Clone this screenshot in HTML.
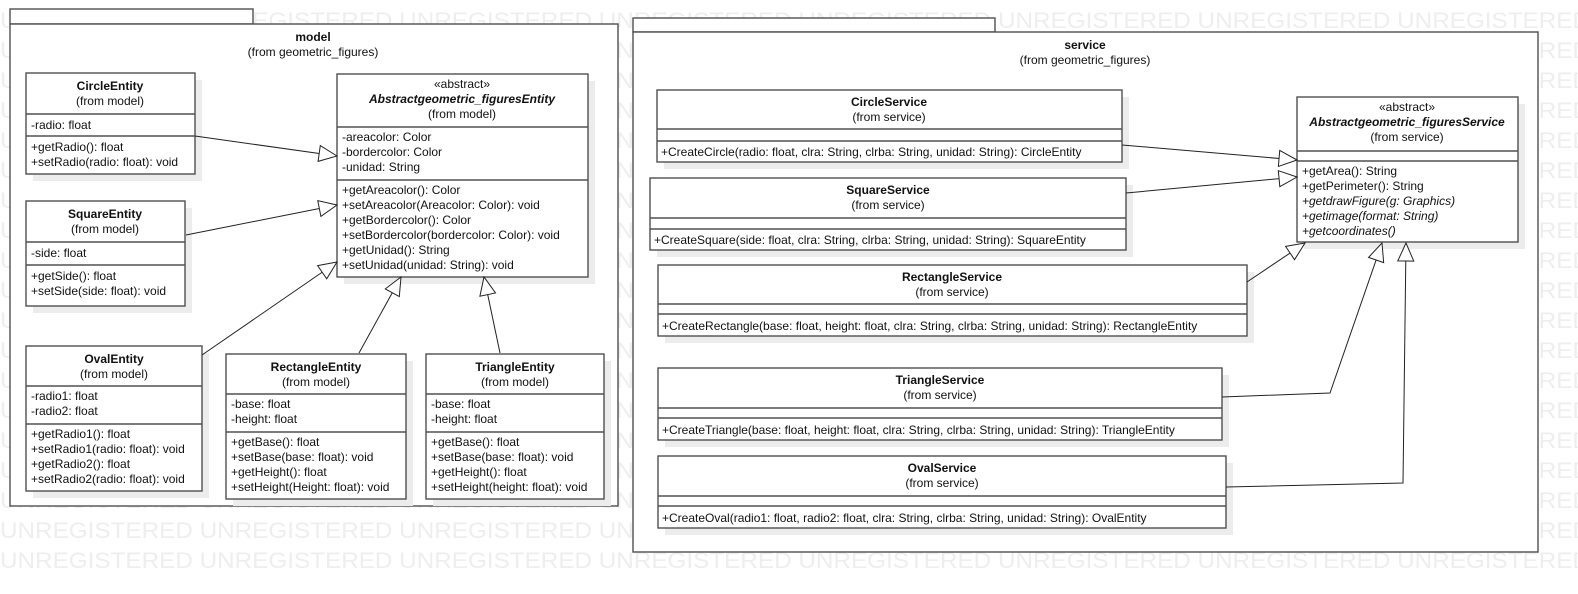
<!DOCTYPE html>
<html><head><meta charset="utf-8"><style>
html,body{margin:0;padding:0;background:#fff;}
svg{display:block;font-family:"Liberation Sans",Arial,sans-serif;font-size:12px;}
.b{fill:#fff;stroke:#505050;stroke-width:1.4;}
.s{fill:#ececec;stroke:none;}
.l{stroke:#505050;stroke-width:1.4;}
.c{stroke:#222;stroke-width:1;fill:none;}
.t{fill:#111;}
.bd{font-weight:bold;}
.it{font-style:italic;}
.wm{fill:#eeeeee;font-size:22px;}
</style></head><body>
<svg width="1578" height="594" viewBox="0 0 1578 594" xmlns="http://www.w3.org/2000/svg">
<defs>
<marker id="a" markerUnits="userSpaceOnUse" markerWidth="22" markerHeight="20" refX="19" refY="9" orient="auto">
<path d="M19,9 L1,1 L1,17 Z" fill="#fff" stroke="#222" stroke-width="1"/>
</marker>
</defs>
<!-- watermark -->
<g class="wm">
<text x="0" y="28" textLength="1590" lengthAdjust="spacingAndGlyphs">UNREGISTERED UNREGISTERED UNREGISTERED UNREGISTERED UNREGISTERED UNREGISTERED UNREGISTERED UNREGISTERED</text>
<text x="0" y="58" textLength="1590" lengthAdjust="spacingAndGlyphs">UNREGISTERED UNREGISTERED UNREGISTERED UNREGISTERED UNREGISTERED UNREGISTERED UNREGISTERED UNREGISTERED</text>
<text x="0" y="88" textLength="1590" lengthAdjust="spacingAndGlyphs">UNREGISTERED UNREGISTERED UNREGISTERED UNREGISTERED UNREGISTERED UNREGISTERED UNREGISTERED UNREGISTERED</text>
<text x="0" y="118" textLength="1590" lengthAdjust="spacingAndGlyphs">UNREGISTERED UNREGISTERED UNREGISTERED UNREGISTERED UNREGISTERED UNREGISTERED UNREGISTERED UNREGISTERED</text>
<text x="0" y="148" textLength="1590" lengthAdjust="spacingAndGlyphs">UNREGISTERED UNREGISTERED UNREGISTERED UNREGISTERED UNREGISTERED UNREGISTERED UNREGISTERED UNREGISTERED</text>
<text x="0" y="178" textLength="1590" lengthAdjust="spacingAndGlyphs">UNREGISTERED UNREGISTERED UNREGISTERED UNREGISTERED UNREGISTERED UNREGISTERED UNREGISTERED UNREGISTERED</text>
<text x="0" y="208" textLength="1590" lengthAdjust="spacingAndGlyphs">UNREGISTERED UNREGISTERED UNREGISTERED UNREGISTERED UNREGISTERED UNREGISTERED UNREGISTERED UNREGISTERED</text>
<text x="0" y="238" textLength="1590" lengthAdjust="spacingAndGlyphs">UNREGISTERED UNREGISTERED UNREGISTERED UNREGISTERED UNREGISTERED UNREGISTERED UNREGISTERED UNREGISTERED</text>
<text x="0" y="268" textLength="1590" lengthAdjust="spacingAndGlyphs">UNREGISTERED UNREGISTERED UNREGISTERED UNREGISTERED UNREGISTERED UNREGISTERED UNREGISTERED UNREGISTERED</text>
<text x="0" y="298" textLength="1590" lengthAdjust="spacingAndGlyphs">UNREGISTERED UNREGISTERED UNREGISTERED UNREGISTERED UNREGISTERED UNREGISTERED UNREGISTERED UNREGISTERED</text>
<text x="0" y="328" textLength="1590" lengthAdjust="spacingAndGlyphs">UNREGISTERED UNREGISTERED UNREGISTERED UNREGISTERED UNREGISTERED UNREGISTERED UNREGISTERED UNREGISTERED</text>
<text x="0" y="358" textLength="1590" lengthAdjust="spacingAndGlyphs">UNREGISTERED UNREGISTERED UNREGISTERED UNREGISTERED UNREGISTERED UNREGISTERED UNREGISTERED UNREGISTERED</text>
<text x="0" y="388" textLength="1590" lengthAdjust="spacingAndGlyphs">UNREGISTERED UNREGISTERED UNREGISTERED UNREGISTERED UNREGISTERED UNREGISTERED UNREGISTERED UNREGISTERED</text>
<text x="0" y="418" textLength="1590" lengthAdjust="spacingAndGlyphs">UNREGISTERED UNREGISTERED UNREGISTERED UNREGISTERED UNREGISTERED UNREGISTERED UNREGISTERED UNREGISTERED</text>
<text x="0" y="448" textLength="1590" lengthAdjust="spacingAndGlyphs">UNREGISTERED UNREGISTERED UNREGISTERED UNREGISTERED UNREGISTERED UNREGISTERED UNREGISTERED UNREGISTERED</text>
<text x="0" y="478" textLength="1590" lengthAdjust="spacingAndGlyphs">UNREGISTERED UNREGISTERED UNREGISTERED UNREGISTERED UNREGISTERED UNREGISTERED UNREGISTERED UNREGISTERED</text>
<text x="0" y="508" textLength="1590" lengthAdjust="spacingAndGlyphs">UNREGISTERED UNREGISTERED UNREGISTERED UNREGISTERED UNREGISTERED UNREGISTERED UNREGISTERED UNREGISTERED</text>
<text x="0" y="538" textLength="1590" lengthAdjust="spacingAndGlyphs">UNREGISTERED UNREGISTERED UNREGISTERED UNREGISTERED UNREGISTERED UNREGISTERED UNREGISTERED UNREGISTERED</text>
<text x="0" y="568" textLength="1590" lengthAdjust="spacingAndGlyphs">UNREGISTERED UNREGISTERED UNREGISTERED UNREGISTERED UNREGISTERED UNREGISTERED UNREGISTERED UNREGISTERED</text>
</g>

<!-- MODEL PACKAGE -->
<rect class="b" x="10" y="9" width="243" height="15"/>
<rect class="b" x="10" y="24" width="608" height="482"/>
<text class="t bd" x="313" y="41" text-anchor="middle">model</text>
<text class="t" x="313" y="56" text-anchor="middle">(from geometric_figures)</text>

<!-- CircleEntity -->
<rect class="s" x="33" y="80" width="169" height="101"/>
<rect class="b" x="26" y="73" width="169" height="101"/>
<line class="l" x1="26" y1="114" x2="195" y2="114"/><line class="l" x1="26" y1="136" x2="195" y2="136"/>
<text class="t bd" x="110" y="90" text-anchor="middle">CircleEntity</text>
<text class="t" x="110" y="105" text-anchor="middle">(from model)</text>
<text class="t" x="31" y="129">-radio: float</text>
<text class="t" x="31" y="151">+getRadio(): float</text>
<text class="t" x="31" y="166">+setRadio(radio: float): void</text>

<!-- SquareEntity -->
<rect class="s" x="33" y="208" width="159" height="105"/>
<rect class="b" x="26" y="201" width="159" height="105"/>
<line class="l" x1="26" y1="242" x2="185" y2="242"/><line class="l" x1="26" y1="265" x2="185" y2="265"/>
<text class="t bd" x="105" y="218" text-anchor="middle">SquareEntity</text>
<text class="t" x="105" y="233" text-anchor="middle">(from model)</text>
<text class="t" x="31" y="257">-side: float</text>
<text class="t" x="31" y="280">+getSide(): float</text>
<text class="t" x="31" y="295">+setSide(side: float): void</text>

<!-- Abstract Entity -->
<rect class="s" x="344" y="81" width="251" height="203"/>
<rect class="b" x="337" y="74" width="251" height="203"/>
<line class="l" x1="337" y1="127" x2="588" y2="127"/><line class="l" x1="337" y1="180" x2="588" y2="180"/>
<text class="t" x="462" y="88" text-anchor="middle">«abstract»</text>
<text class="t bd it" x="462" y="103" text-anchor="middle">Abstractgeometric_figuresEntity</text>
<text class="t" x="462" y="118" text-anchor="middle">(from model)</text>
<text class="t" x="342" y="141">-areacolor: Color</text>
<text class="t" x="342" y="156">-bordercolor: Color</text>
<text class="t" x="342" y="171">-unidad: String</text>
<text class="t" x="342" y="194">+getAreacolor(): Color</text>
<text class="t" x="342" y="209">+setAreacolor(Areacolor: Color): void</text>
<text class="t" x="342" y="224">+getBordercolor(): Color</text>
<text class="t" x="342" y="239">+setBordercolor(bordercolor: Color): void</text>
<text class="t" x="342" y="254">+getUnidad(): String</text>
<text class="t" x="342" y="269">+setUnidad(unidad: String): void</text>

<!-- OvalEntity -->
<rect class="s" x="33" y="353" width="176" height="145"/>
<rect class="b" x="26" y="346" width="176" height="145"/>
<line class="l" x1="26" y1="386" x2="202" y2="386"/><line class="l" x1="26" y1="424" x2="202" y2="424"/>
<text class="t bd" x="114" y="363" text-anchor="middle">OvalEntity</text>
<text class="t" x="114" y="378" text-anchor="middle">(from model)</text>
<text class="t" x="31" y="400">-radio1: float</text>
<text class="t" x="31" y="415">-radio2: float</text>
<text class="t" x="31" y="438">+getRadio1(): float</text>
<text class="t" x="31" y="453">+setRadio1(radio: float): void</text>
<text class="t" x="31" y="468">+getRadio2(): float</text>
<text class="t" x="31" y="483">+setRadio2(radio: float): void</text>

<!-- RectangleEntity -->
<rect class="s" x="233" y="361" width="180" height="145"/>
<rect class="b" x="226" y="354" width="180" height="145"/>
<line class="l" x1="226" y1="394" x2="406" y2="394"/><line class="l" x1="226" y1="432" x2="406" y2="432"/>
<text class="t bd" x="316" y="371" text-anchor="middle">RectangleEntity</text>
<text class="t" x="316" y="386" text-anchor="middle">(from model)</text>
<text class="t" x="231" y="408">-base: float</text>
<text class="t" x="231" y="423">-height: float</text>
<text class="t" x="231" y="446">+getBase(): float</text>
<text class="t" x="231" y="461">+setBase(base: float): void</text>
<text class="t" x="231" y="476">+getHeight(): float</text>
<text class="t" x="231" y="491">+setHeight(Height: float): void</text>

<!-- TriangleEntity -->
<rect class="s" x="433" y="361" width="178" height="145"/>
<rect class="b" x="426" y="354" width="178" height="145"/>
<line class="l" x1="426" y1="394" x2="604" y2="394"/><line class="l" x1="426" y1="432" x2="604" y2="432"/>
<text class="t bd" x="515" y="371" text-anchor="middle">TriangleEntity</text>
<text class="t" x="515" y="386" text-anchor="middle">(from model)</text>
<text class="t" x="431" y="408">-base: float</text>
<text class="t" x="431" y="423">-height: float</text>
<text class="t" x="431" y="446">+getBase(): float</text>
<text class="t" x="431" y="461">+setBase(base: float): void</text>
<text class="t" x="431" y="476">+getHeight(): float</text>
<text class="t" x="431" y="491">+setHeight(height: float): void</text>

<!-- model connectors -->
<line class="c" x1="195" y1="136" x2="337" y2="156" marker-end="url(#a)"/>
<line class="c" x1="186" y1="235" x2="337" y2="205" marker-end="url(#a)"/>
<line class="c" x1="202" y1="355" x2="337" y2="262" marker-end="url(#a)"/>
<line class="c" x1="359" y1="353" x2="401" y2="277" marker-end="url(#a)"/>
<line class="c" x1="500" y1="353" x2="484" y2="277" marker-end="url(#a)"/>

<!-- SERVICE PACKAGE -->
<rect class="b" x="633" y="18" width="362" height="14"/>
<rect class="b" x="633" y="32" width="905" height="520"/>
<text class="t bd" x="1085" y="49" text-anchor="middle">service</text>
<text class="t" x="1085" y="64" text-anchor="middle">(from geometric_figures)</text>

<!-- CircleService -->
<rect class="s" x="664" y="97" width="465" height="72"/>
<rect class="b" x="657" y="90" width="465" height="72"/>
<line class="l" x1="657" y1="129" x2="1122" y2="129"/><line class="l" x1="657" y1="141" x2="1122" y2="141"/>
<text class="t bd" x="889" y="106" text-anchor="middle">CircleService</text>
<text class="t" x="889" y="121" text-anchor="middle">(from service)</text>
<text class="t" x="661" y="156">+CreateCircle(radio: float, clra: String, clrba: String, unidad: String): CircleEntity</text>

<!-- SquareService -->
<rect class="s" x="657" y="185" width="476" height="72"/>
<rect class="b" x="650" y="178" width="476" height="72"/>
<line class="l" x1="650" y1="218" x2="1126" y2="218"/><line class="l" x1="650" y1="229" x2="1126" y2="229"/>
<text class="t bd" x="888" y="194" text-anchor="middle">SquareService</text>
<text class="t" x="888" y="209" text-anchor="middle">(from service)</text>
<text class="t" x="654" y="244">+CreateSquare(side: float, clra: String, clrba: String, unidad: String): SquareEntity</text>

<!-- RectangleService -->
<rect class="s" x="665" y="272" width="589" height="71"/>
<rect class="b" x="658" y="265" width="589" height="71"/>
<line class="l" x1="658" y1="304" x2="1247" y2="304"/><line class="l" x1="658" y1="314" x2="1247" y2="314"/>
<text class="t bd" x="952" y="281" text-anchor="middle">RectangleService</text>
<text class="t" x="952" y="296" text-anchor="middle">(from service)</text>
<text class="t" x="662" y="330">+CreateRectangle(base: float, height: float, clra: String, clrba: String, unidad: String): RectangleEntity</text>

<!-- TriangleService -->
<rect class="s" x="665" y="375" width="564" height="72"/>
<rect class="b" x="658" y="368" width="564" height="72"/>
<line class="l" x1="658" y1="408" x2="1222" y2="408"/><line class="l" x1="658" y1="418" x2="1222" y2="418"/>
<text class="t bd" x="940" y="384" text-anchor="middle">TriangleService</text>
<text class="t" x="940" y="399" text-anchor="middle">(from service)</text>
<text class="t" x="662" y="434">+CreateTriangle(base: float, height: float, clra: String, clrba: String, unidad: String): TriangleEntity</text>

<!-- OvalService -->
<rect class="s" x="665" y="463" width="568" height="72"/>
<rect class="b" x="658" y="456" width="568" height="72"/>
<line class="l" x1="658" y1="496" x2="1226" y2="496"/><line class="l" x1="658" y1="506" x2="1226" y2="506"/>
<text class="t bd" x="942" y="472" text-anchor="middle">OvalService</text>
<text class="t" x="942" y="487" text-anchor="middle">(from service)</text>
<text class="t" x="662" y="522">+CreateOval(radio1: float, radio2: float, clra: String, clrba: String, unidad: String): OvalEntity</text>

<!-- Abstract Service -->
<rect class="s" x="1304" y="104" width="221" height="145"/>
<rect class="b" x="1297" y="97" width="221" height="145"/>
<line class="l" x1="1297" y1="151" x2="1518" y2="151"/><line class="l" x1="1297" y1="161" x2="1518" y2="161"/>
<text class="t" x="1407" y="111" text-anchor="middle">«abstract»</text>
<text class="t bd it" x="1407" y="126" text-anchor="middle">Abstractgeometric_figuresService</text>
<text class="t" x="1407" y="141" text-anchor="middle">(from service)</text>
<text class="t" x="1302" y="175">+getArea(): String</text>
<text class="t" x="1302" y="190">+getPerimeter(): String</text>
<text class="t it" x="1302" y="205">+getdrawFigure(g: Graphics)</text>
<text class="t it" x="1302" y="220">+getimage(format: String)</text>
<text class="t it" x="1302" y="235">+getcoordinates()</text>

<!-- service connectors -->
<line class="c" x1="1122" y1="145" x2="1297" y2="160" marker-end="url(#a)"/>
<line class="c" x1="1126" y1="193" x2="1297" y2="177" marker-end="url(#a)"/>
<line class="c" x1="1247" y1="282" x2="1305" y2="243" marker-end="url(#a)"/>
<polyline class="c" points="1222,397 1330,393 1382,243" marker-end="url(#a)"/>
<polyline class="c" points="1226,487 1403,483 1406,243" marker-end="url(#a)"/>
</svg>
</body></html>
